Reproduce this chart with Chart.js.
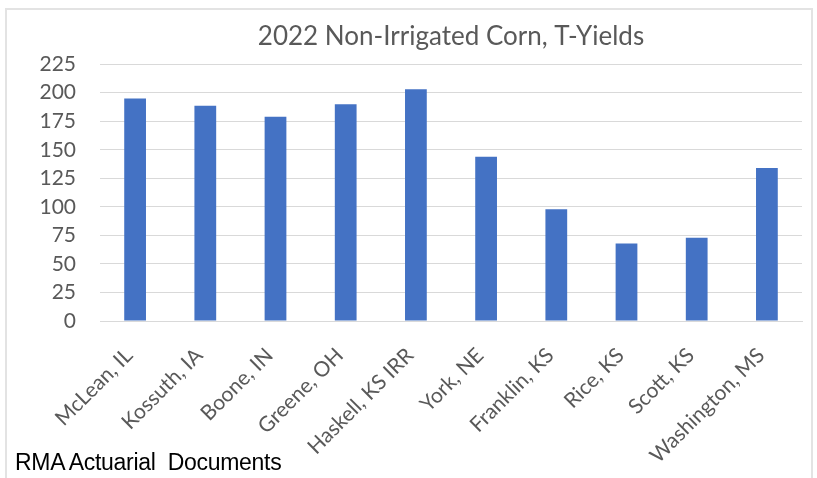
<!DOCTYPE html>
<html>
<head>
<meta charset="utf-8">
<script src="https://cdn.jsdelivr.net/npm/chart.js@4"></script>
<style>
  html, body { margin: 0; padding: 0; background: #fff; }
  #wrap { position: relative; width: 817px; height: 478px; }
  #frame { position: absolute; left: 5px; top: 8px; width: 808px; height: 475px; border: 2px solid #e3e3e3; box-sizing: border-box; }
  #footer { position: absolute; left: 15px; top: 449px; font-family: "Liberation Sans", Arial, sans-serif; font-size: 23px; letter-spacing: -0.3px; color: #000; white-space: pre; }
</style>
</head>
<body>
<div id="wrap">
  <div id="frame"></div>
  <canvas id="c" width="817" height="478"></canvas>
  <div id="footer">RMA Actuarial  Documents</div>
</div>
<script>
const categories = ["McLean, IL", "Kossuth, IA", "Boone, IN", "Greene, OH", "Haskell, KS IRR", "York, NE", "Franklin, KS", "Rice, KS", "Scott, KS", "Washington, MS"];
const tYields = [195, 188.5, 179, 190, 203, 144, 98, 68, 73, 134];
const yTicks = [0, 25, 50, 75, 100, 125, 150, 175, 200, 225];
const titleText = "2022 Non-Irrigated Corn, T-Yields";

const FONT = "Lato, 'Open Sans', sans-serif";

new Chart(document.getElementById('c'), {
  type: 'bar',
  data: {
    labels: categories,
    datasets: [{
      label: 'T-Yield',
      data: tYields,
      backgroundColor: '#4472C4',
      borderWidth: 0,
      categoryPercentage: 1.0,
      barPercentage: 0.31
    }]
  },
  options: {
    responsive: false,
    animation: false,
    devicePixelRatio: 1,
    layout: { padding: { left: 0, right: 15, top: 0, bottom: 0 } },
    plugins: {
      legend: { display: false },
      tooltip: { enabled: false },
      title: {
        display: true,
        fullSize: false,
        text: titleText,
        color: '#595959',
        font: { family: FONT, size: 26, weight: 'normal', lineHeight: 1.2 },
        padding: { top: 21, bottom: 12 }
      }
    },
    scales: {
      x: {
        grid: { display: false, drawTicks: false },
        border: { display: true, color: '#d9d9d9', width: 1 },
        ticks: {
          color: '#595959',
          font: { family: FONT, size: 21 },
          autoSkip: false,
          minRotation: 45,
          maxRotation: 45,
          padding: 22,
          labelOffset: -6
        },
        afterFit: s => { s.height = 157; }
      },
      y: {
        min: 0,
        max: 225,
        afterBuildTicks: s => { s.ticks = yTicks.map(v => ({ value: v })); },
        grid: { color: '#d9d9d9', lineWidth: 1, drawTicks: false },
        border: { display: false },
        ticks: {
          color: '#595959',
          font: { family: FONT, size: 21 },
          padding: 24
        },
        afterFit: s => { s.width = 100; }
      }
    }
  }
});
</script>
</body>
</html>
